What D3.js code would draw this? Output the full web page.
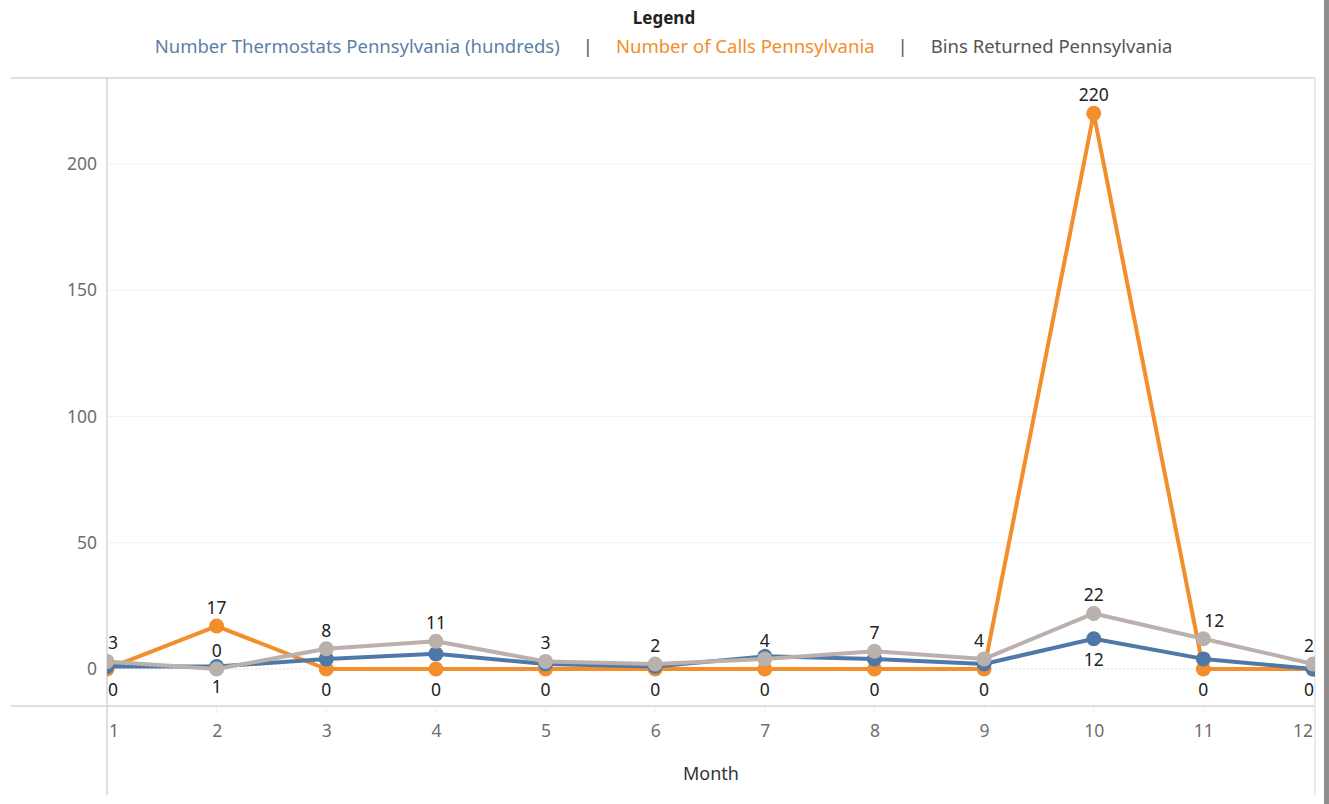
<!DOCTYPE html>
<html>
<head>
<meta charset="utf-8">
<script src="https://cdn.jsdelivr.net/npm/d3@7"></script>
<style>
  html, body { margin: 0; padding: 0; background: #fff; }
  svg { display: block; font-family: "Noto Sans", Lato, sans-serif; }
</style>
</head>
<body>
<svg id="chart" width="1329" height="804"></svg>
<script>
// ---- data ----
const months = [1, 2, 3, 4, 5, 6, 7, 8, 9, 10, 11, 12];
const thermostats = [1, 1, 4, 6, 2, 1, 5, 4, 2, 12, 4, 0];
const calls = [0, 17, 0, 0, 0, 0, 0, 0, 0, 220, 0, 0];
const bins = [3, 0, 8, 11, 3, 2, 4, 7, 4, 22, 12, 2];
const yTicks = [0, 50, 100, 150, 200];
const thermoLabelMonths = [2, 10];
const seriesNames = ["Number Thermostats Pennsylvania (hundreds)", "Number of Calls Pennsylvania", "Bins Returned Pennsylvania"];
const legendTitle = "Legend";
const xTitle = "Month";

// ---- layout ----
const W = 1329, H = 804;
const paneL = 107, paneR = 1315, paneT = 78, axisY = 706, bottom = 795;
const colors = { thermo: "#4e79a7", calls: "#f28e2b", bins: "#bab0ac" };
const svg = d3.select("#chart");

const x = d3.scaleLinear().domain([1, 12]).range([107, 1313]);
const y = d3.scaleLinear().domain([-14.65, 234]).range([axisY, paneT]);

// right dark bar
svg.append("rect").attr("x", 1324).attr("y", 0).attr("width", 5).attr("height", H).attr("fill", "#8f8f8f");

// gridlines
const gridG = svg.append("g");
gridG.selectAll("line.grid").data(yTicks.filter(d => d !== 0)).join("line")
  .attr("x1", paneL).attr("x2", paneR)
  .attr("y1", d => y(d)).attr("y2", d => y(d))
  .attr("stroke", "#f0f0f0").attr("stroke-width", 1);
gridG.append("line")
  .attr("x1", paneL).attr("x2", paneR).attr("y1", y(0)).attr("y2", y(0))
  .attr("stroke", "#dcdcdc").attr("stroke-width", 1).attr("stroke-dasharray", "2,2");

// x tick marks (faint)
gridG.selectAll("line.xt").data(months).join("line")
  .attr("x1", d => x(d)).attr("x2", d => x(d))
  .attr("y1", axisY).attr("y2", axisY + 8)
  .attr("stroke", "#f0f0f0");

// borders
svg.append("line").attr("x1", 11).attr("x2", paneR).attr("y1", paneT).attr("y2", paneT).attr("stroke", "#d4d4d4").attr("stroke-width", 1.5);
svg.append("line").attr("x1", 11).attr("x2", paneR).attr("y1", axisY).attr("y2", axisY).attr("stroke", "#d4d4d4").attr("stroke-width", 1.5);
svg.append("line").attr("x1", paneL).attr("x2", paneL).attr("y1", paneT).attr("y2", bottom).attr("stroke", "#d4d4d4").attr("stroke-width", 1.5);
svg.append("line").attr("x1", paneR).attr("x2", paneR).attr("y1", paneT).attr("y2", bottom).attr("stroke", "#e4e4e4").attr("stroke-width", 1.5);

// y axis labels
const yAxis = d3.axisLeft(y).tickValues(yTicks).tickSize(0).tickPadding(10);
const yg = svg.append("g").attr("transform", `translate(${paneL},0)`).call(yAxis);
yg.select(".domain").remove();
yg.selectAll("text").attr("fill", "#6e6e6e").style("font-size", "17.5px").style("font-family", "'Noto Sans', sans-serif");

// x axis labels
const xAxis = d3.axisBottom(x).tickValues(months).tickSize(0).tickPadding(0).tickFormat(d3.format("d"));
const xg = svg.append("g").attr("transform", `translate(0,${axisY + 31})`).call(xAxis);
xg.select(".domain").remove();
xg.selectAll("text").attr("fill", "#6e6e6e").attr("dy", 0).style("font-size", "17.5px").style("font-family", "'Noto Sans', sans-serif");
xg.selectAll(".tick text").each(function () {
  const t = d3.select(this);
  const tr = d3.select(this.parentNode).attr("transform");
  const tx = +tr.match(/translate\(([-\d.]+)/)[1];
  const w = this.getComputedTextLength();
  if (tx - w / 2 < paneL + 2) t.attr("text-anchor", "start").attr("x", paneL + 2 - tx);
  if (tx + w / 2 > paneR - 2) t.attr("text-anchor", "end").attr("x", paneR - 2 - tx);
});

// x title
svg.append("text").attr("x", (paneL + paneR) / 2).attr("y", 780).attr("text-anchor", "middle")
  .attr("fill", "#333").style("font-size", "18px").text(xTitle);

// clip
svg.append("clipPath").attr("id", "pane").append("rect")
  .attr("x", paneL).attr("y", paneT).attr("width", paneR - paneL).attr("height", axisY - paneT);
const plot = svg.append("g").attr("clip-path", "url(#pane)");

const line = d3.line().x((d, i) => x(months[i])).y(d => y(d));
const series = [
  { key: "calls", values: calls },
  { key: "thermo", values: thermostats },
  { key: "bins", values: bins }
];
series.forEach(s => {
  plot.append("path").datum(s.values).attr("d", line)
    .attr("fill", "none").attr("stroke", colors[s.key]).attr("stroke-width", 4)
    .attr("stroke-linejoin", "round");
  plot.selectAll(null).data(s.values).join("circle")
    .attr("cx", (d, i) => x(months[i])).attr("cy", d => y(d)).attr("r", 7.5)
    .attr("fill", colors[s.key]);
});

// labels
const labelNudge = { bins: { 9: -5, 11: 11 } };
const labels = [];
months.forEach((m, i) => {
  labels.push({ m, v: bins[i], pos: "above", key: "bins" });
  labels.push({ m, v: calls[i], pos: calls[i] > 0 ? "above" : "below", key: "calls" });
  if (thermoLabelMonths.includes(m)) labels.push({ m, v: thermostats[i], pos: "below", key: "thermo" });
});
const lg = plot.append("g");
labels.forEach(l => {
  const nx = (labelNudge[l.key] && labelNudge[l.key][l.m]) || 0;
  const t = lg.append("text")
    .attr("x", x(l.m) + nx)
    .attr("y", y(l.v) + (l.pos === "above" ? -12 : 27))
    .attr("text-anchor", "middle").attr("fill", "#222")
    .style("font-size", "17.5px").text(l.v);
  const w = t.node().getComputedTextLength();
  const cx = x(l.m) + nx;
  if (cx - w / 2 < paneL + 1) t.attr("text-anchor", "start").attr("x", paneL + 1);
  if (cx + w / 2 > paneR - 1) t.attr("text-anchor", "end").attr("x", paneR - 1);
});

// legend
svg.append("text").attr("x", 664).attr("y", 24).attr("text-anchor", "middle")
  .attr("fill", "#222").style("font-size", "17px").style("font-weight", "bold").text(legendTitle);
const legColors = ["#5b7fa8", "#f28e2b", "#555"];
const items = [];
seriesNames.forEach((n, i) => {
  items.push({ text: n, color: legColors[i] });
  if (i < seriesNames.length - 1) items.push({ text: "|", color: "#555" });
});
const legG = svg.append("g");
let cursor = 0;
const gap = 23;
items.forEach(it => {
  const t = legG.append("text").attr("y", 53).attr("fill", it.color).style("font-size", "18.5px").text(it.text);
  const w = t.node().getComputedTextLength();
  t.attr("x", cursor);
  cursor += w + gap;
});
const total = cursor - gap;
legG.attr("transform", `translate(${663.5 - total / 2},0)`);
</script>
</body>
</html>
